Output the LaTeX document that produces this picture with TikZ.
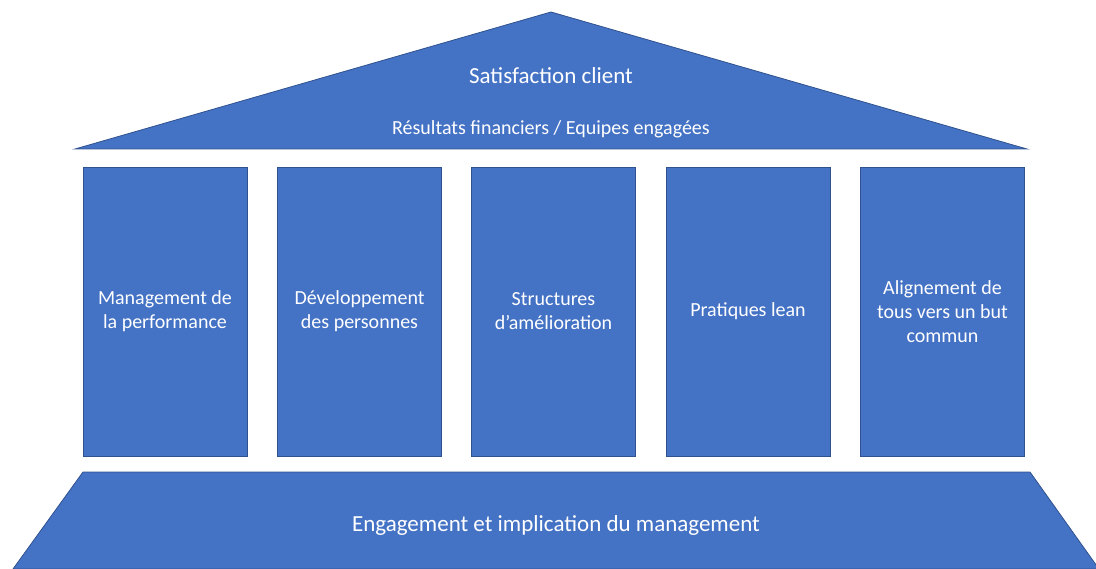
\documentclass[tikz,border=0pt]{standalone}
\usepackage{fontspec}
\setmainfont{Carlito}
\definecolor{houseblue}{HTML}{4472C4}
\definecolor{houseedge}{HTML}{2F528F}
\tikzset{
  part/.style={fill=houseblue,draw=houseedge,line width=0.8pt},
  pillar/.style={part,rectangle,minimum width=164pt,minimum height=289pt,inner sep=0pt,
    align=center,text=white,font=\fontsize{20}{24}\selectfont},
  label/.style={text=white,inner sep=0pt,align=center}
}
\begin{document}
\begin{tikzpicture}[x=1pt,y=-1pt]
\useasboundingbox (0,0) rectangle (1096,569);
% roof
\draw[part] (75,149) -- (551,12) -- (1027,149) -- cycle;
\node[label,font=\fontsize{23}{27}\selectfont] (goal) at (551,76) {Satisfaction client};
\node[label,font=\fontsize{20}{24}\selectfont] (result) at (551,129) {Résultats financiers / Equipes engagées};
% pillars
\node[pillar] (p1) at (165,311.5) {Management de\\la performance};
\node[pillar] (p2) at (359.5,311.5) {Développement\\des personnes};
\node[pillar] (p3) at (553.5,311.5) {Structures\\d’amélioration};
\node[pillar] (p4) at (748,311.5) {Pratiques lean};
\node[pillar] (p5) at (942.5,311.5) {Alignement de\\tous vers un but\\commun};
% base
\draw[part] (83,472) -- (1030,472) -- (1099,569) -- (13,569) -- cycle;
\node[label,font=\fontsize{23}{27}\selectfont] (base) at (556,525) {Engagement et implication du management};
\end{tikzpicture}
\end{document}
